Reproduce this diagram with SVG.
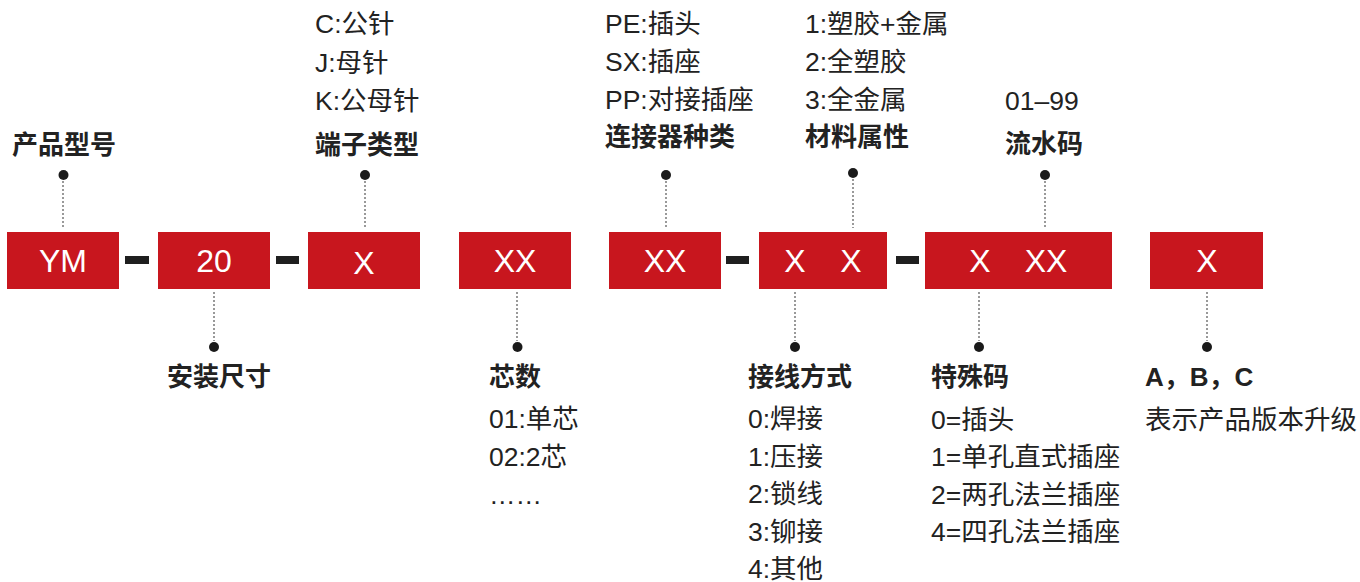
<svg xmlns="http://www.w3.org/2000/svg" width="1360" height="582" viewBox="0 0 1360 582">
<style>
text{font-family:"Liberation Sans","Noto Sans CJK SC",sans-serif;font-size:26.5px;fill:#222}
.t{font-weight:bold;font-size:26px}
.bx{fill:#c8161e}
.bt{fill:#fff;font-size:32px;text-anchor:middle}
.dash{fill:#1f1f1f}
.lead{stroke:#808080;stroke-width:1.6;stroke-dasharray:2 2;fill:none}
.dot{fill:#1a1a1a}
</style>
<rect width="1360" height="582" fill="#fff"/>
<g id="connectors">
<rect class="dash" x="125" y="256" width="24" height="8"/>
<rect class="dash" x="276" y="256" width="23" height="8"/>
<rect class="dash" x="726" y="256" width="23" height="8"/>
<rect class="dash" x="896" y="256" width="23" height="8"/>
<path class="lead" d="M63 181V228M365 181V228M666 181V228M853 179V228M1045 181V228M214 292V341M517 292V341M795 292V341M979 292V341M1207 292V341"/>
<circle class="dot" cx="63.5" cy="175" r="5"/>
<circle class="dot" cx="365" cy="175" r="5"/>
<circle class="dot" cx="666" cy="175" r="5"/>
<circle class="dot" cx="853" cy="173" r="5"/>
<circle class="dot" cx="1045" cy="175" r="5"/>
<circle class="dot" cx="214" cy="347" r="5"/>
<circle class="dot" cx="517.5" cy="347" r="5"/>
<circle class="dot" cx="795" cy="347" r="5"/>
<circle class="dot" cx="979" cy="347" r="5"/>
<circle class="dot" cx="1207" cy="347" r="5"/>
</g>
<g id="node-ym">
<rect class="bx" x="7" y="232" width="112" height="57"/>
<text class="bt" x="63" y="272">YM</text>
<text class="t" x="12" y="154">产品型号</text>
</g>
<g id="node-size">
<rect class="bx" x="158" y="232" width="112" height="57"/>
<text class="bt" x="214" y="272">20</text>
<text class="t" x="167" y="386">安装尺寸</text>
</g>
<g id="node-terminal">
<rect class="bx" x="308" y="232" width="112" height="57"/>
<text class="bt" x="364" y="274">X</text>
<text class="t" x="315" y="154">端子类型</text>
<text x="315" y="33">C:公针</text>
<text x="315" y="72">J:母针</text>
<text x="315" y="110">K:公母针</text>
</g>
<g id="node-cores">
<rect class="bx" x="459" y="232" width="112" height="57"/>
<text class="bt" x="515" y="272">XX</text>
<text class="t" x="489" y="386">芯数</text>
<text x="489" y="428">01:单芯</text>
<text x="489" y="466">02:2芯</text>
<text x="489" y="504">……</text>
</g>
<g id="node-kind">
<rect class="bx" x="609" y="232" width="112" height="57"/>
<text class="bt" x="665" y="272">XX</text>
<text class="t" x="605" y="146">连接器种类</text>
<text x="605" y="33">PE:插头</text>
<text x="605" y="71">SX:插座</text>
<text x="605" y="109">PP:对接插座</text>
</g>
<g id="node-wiring-material">
<rect class="bx" x="759" y="232" width="128" height="57"/>
<text class="bt" x="795" y="272">X</text>
<text class="bt" x="851" y="272">X</text>
<text class="t" x="805" y="146">材料属性</text>
<text x="805" y="33">1:塑胶+金属</text>
<text x="805" y="71">2:全塑胶</text>
<text x="805" y="109">3:全金属</text>
<text class="t" x="748" y="386">接线方式</text>
<text x="748" y="428">0:焊接</text>
<text x="748" y="466">1:压接</text>
<text x="748" y="503">2:锁线</text>
<text x="748" y="541">3:铆接</text>
<text x="748" y="578">4:其他</text>
</g>
<g id="node-special-serial">
<rect class="bx" x="925" y="232" width="187" height="57"/>
<text class="bt" x="980" y="272">X</text>
<text class="bt" x="1046" y="272">XX</text>
<text class="t" x="1005" y="153">流水码</text>
<text x="1005" y="110">01–99</text>
<text class="t" x="931" y="386">特殊码</text>
<text x="931" y="429">0=插头</text>
<text x="931" y="466">1=单孔直式插座</text>
<text x="931" y="504">2=两孔法兰插座</text>
<text x="931" y="541">4=四孔法兰插座</text>
</g>
<g id="node-version">
<rect class="bx" x="1150" y="232" width="113" height="57"/>
<text class="bt" x="1207" y="272">X</text>
<text class="t" x="1145" y="386">A，B，C</text>
<text x="1145" y="429">表示产品版本升级</text>
</g>
</svg>
